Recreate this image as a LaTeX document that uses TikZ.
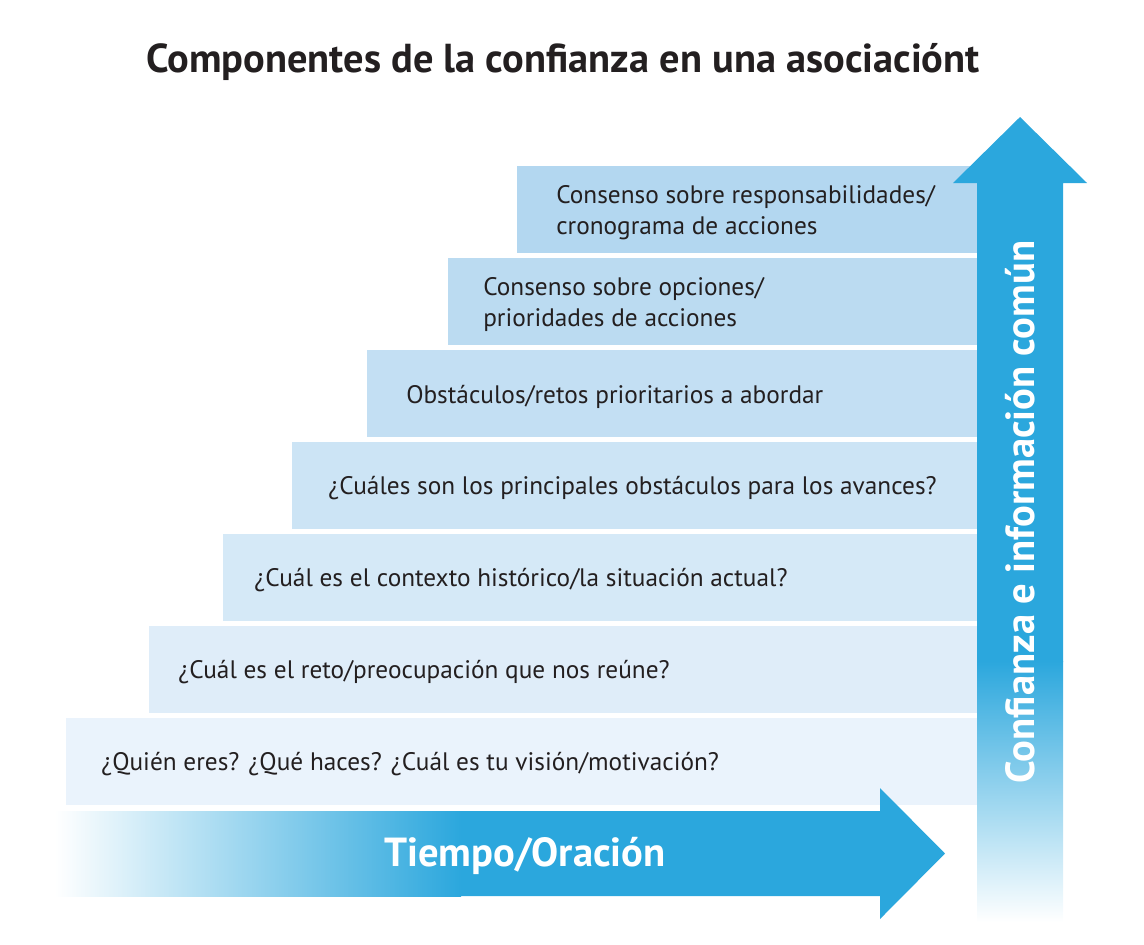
\documentclass[tikz,border=0pt]{standalone}
\usepackage{fontspec}
\setmainfont{PT Sans}
\usetikzlibrary{positioning}
\definecolor{arrowblue}{HTML}{2BA7DD}
\definecolor{inkgray}{HTML}{231F20}
\definecolor{stepa}{HTML}{B3D7F0}
\definecolor{stepb}{HTML}{BBDBF1}
\definecolor{stepc}{HTML}{C3DFF3}
\definecolor{stepd}{HTML}{CCE4F5}
\definecolor{stepe}{HTML}{D5E9F7}
\definecolor{stepf}{HTML}{DFEDF9}
\definecolor{stepg}{HTML}{EAF3FC}
\begin{document}
\begin{tikzpicture}[x=0.5pt, y=-0.5pt]
	% estilos
	\tikzstyle{stepbox} = [rectangle, anchor=east, minimum height=43.5pt, inner sep=0pt]
	\tikzstyle{steptext} = [anchor=west, align=left, text=inkgray, yshift=-1.5pt, font=\fontsize{12.65}{15.3}\selectfont]
	\tikzstyle{bigtext} = [text=white, font=\bfseries\fontsize{20.3}{22}\selectfont]
	
	\useasboundingbox (0,0) rectangle (1144,944);
	
	% titulo
	\node [text=inkgray, font=\bfseries\fontsize{20.2}{24}\selectfont] (title) at (563,62) {Componentes de la confianza en una asociaciónt};
	
	% escalones
	\node [stepbox, minimum width=230pt, fill=stepa] (resp) at (977,209.5) {};
	\node [stepbox, minimum width=264.5pt, fill=stepb] (opc) at (977,301.5) {};
	\node [stepbox, minimum width=305pt, fill=stepc] (obst) at (977,393.5) {};
	\node [stepbox, minimum width=342.5pt, fill=stepd] (avan) at (977,485.5) {};
	\node [stepbox, minimum width=377pt, fill=stepe] (cont) at (977,577.5) {};
	\node [stepbox, minimum width=414pt, fill=stepf] (reto) at (977,669.5) {};
	\node [stepbox, minimum width=455.5pt, fill=stepg] (quien) at (977,761.5) {};
	
	\node [steptext] (resptext) at ([xshift=16.5pt]resp.west) {Consenso sobre responsabilidades/\\cronograma de acciones};
	\node [steptext] (opctext) at ([xshift=14.5pt]opc.west) {Consenso sobre opciones/\\prioridades de acciones};
	\node [steptext] (obsttext) at ([xshift=16.5pt]obst.west) {Obstáculos/retos prioritarios a abordar};
	\node [steptext] (avantext) at ([xshift=15pt]avan.west) {¿Cuáles son los principales obstáculos para los avances?};
	\node [steptext] (conttext) at ([xshift=12.5pt]cont.west) {¿Cuál es el contexto histórico/la situación actual?};
	\node [steptext] (retotext) at ([xshift=11.5pt]reto.west) {¿Cuál es el reto/preocupación que nos reúne?};
	\node [steptext] (quientext) at ([xshift=14.5pt]quien.west) {¿Quién eres? ¿Qué haces? ¿Cuál es tu visión/motivación?};
	
	% flecha horizontal
	\fill [arrowblue] (460,811) -- (880,811) -- (880,788) -- (945,853.5) -- (880,919) -- (880,896) -- (460,896) -- cycle;
	\shade [left color=white, right color=arrowblue] (55,811) rectangle (461,896);
	\node [bigtext] (tiempo) at (525,856) {Tiempo/Oración};
	
	% flecha vertical
	\fill [arrowblue] (977,662) -- (977,183) -- (953,183) -- (1020,117) -- (1087,183) -- (1063,183) -- (1063,662) -- cycle;
	\shade [top color=arrowblue, bottom color=white] (977,661) rectangle (1063,922);
	\node [bigtext, rotate=90] (confianza) at (1020,512) {Confianza e información común};
\end{tikzpicture}
\end{document}
